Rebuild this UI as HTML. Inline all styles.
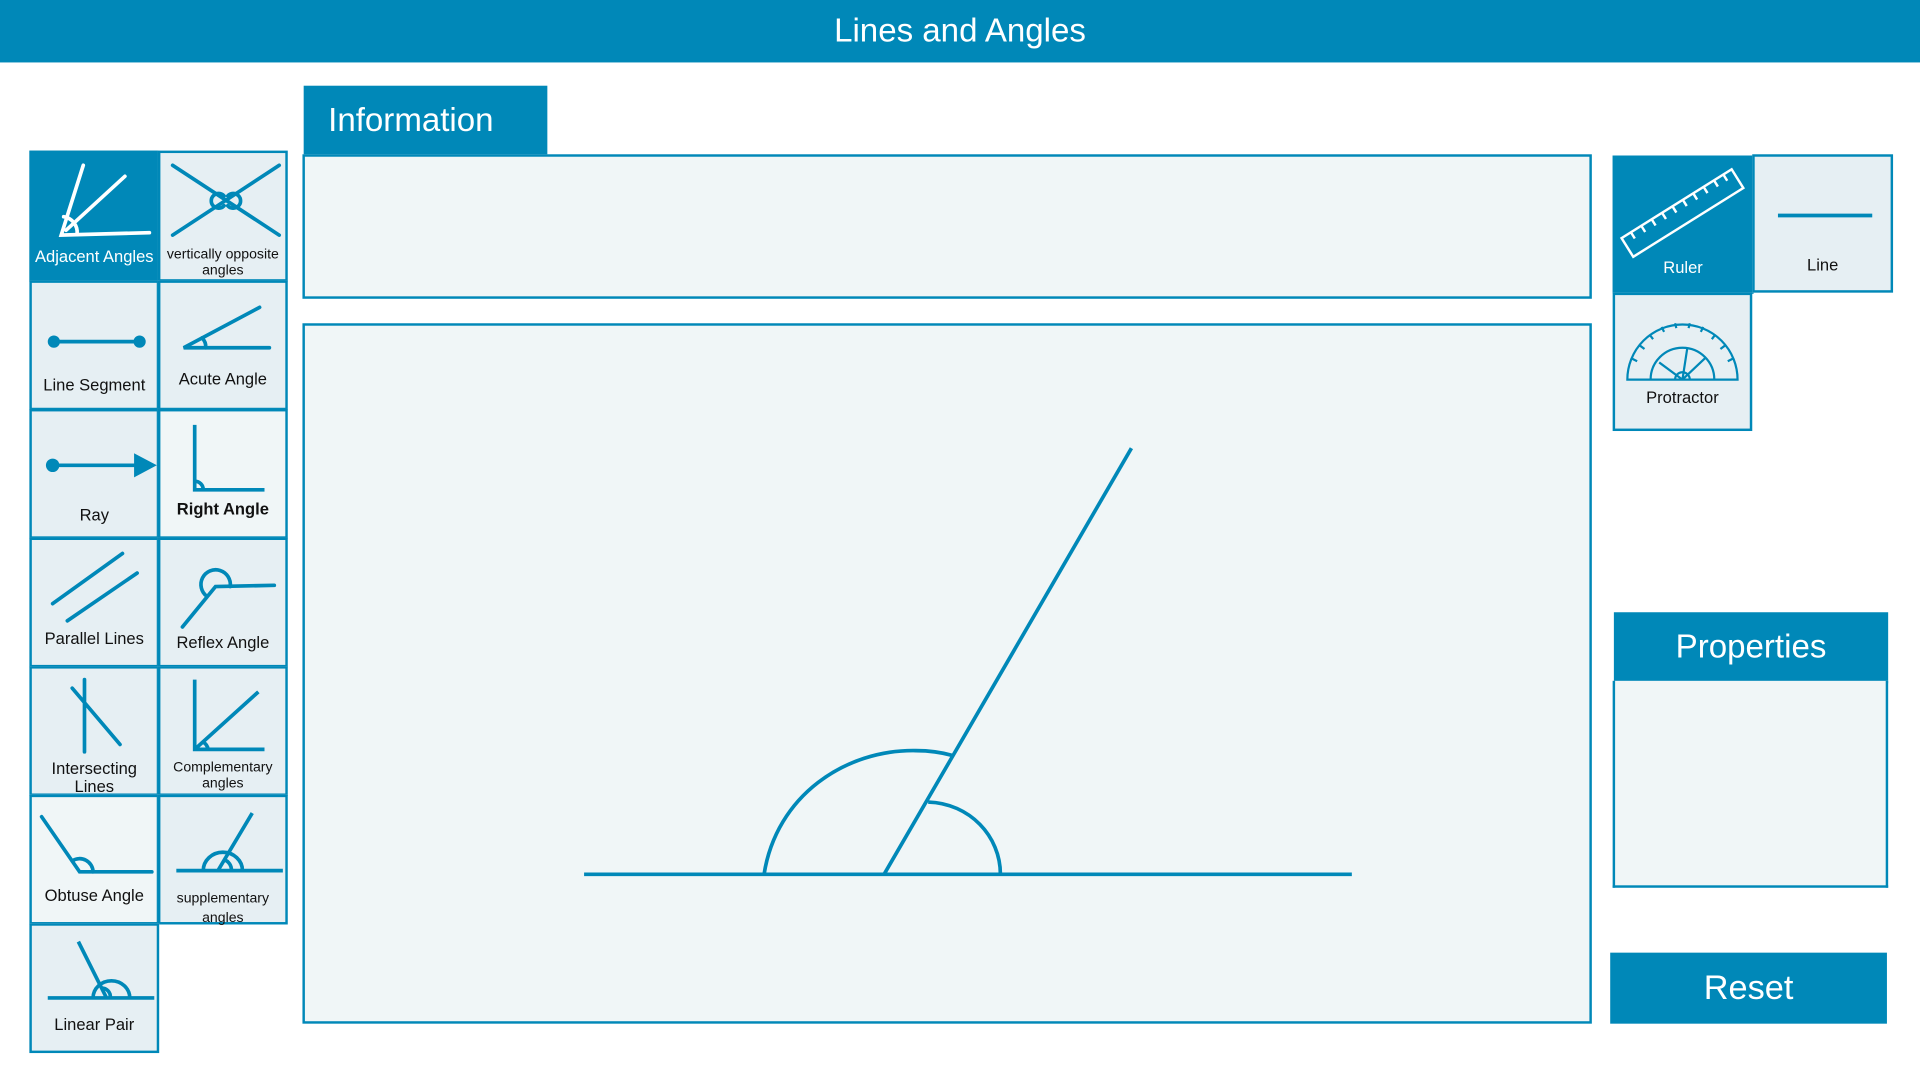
<!DOCTYPE html>
<html><head><meta charset="utf-8"><style>
html,body{margin:0;padding:0;width:1920px;height:1080px;overflow:hidden;background:#fff}
#w{position:absolute;left:0;top:0;width:1568px;height:882px;transform:scale(1.22449);transform-origin:0 0;font-family:"Liberation Sans",sans-serif}
.a{position:absolute;box-sizing:border-box}
.cell{position:absolute;box-sizing:border-box;border:2px solid #0088b8;background:#e6eff3}
.cell svg{position:absolute;left:0;top:0}
.lbl{position:absolute;left:0;right:0;text-align:center;font-size:13.5px;color:#111;line-height:14px;white-space:nowrap}
.sm{font-size:11.5px;line-height:13px}
.on{background:#0088b8}
.on .lbl{color:#fff}
</style></head><body><div id="w">
<div class="a" style="left:0;top:0;width:1568px;height:51px;background:#0088b8;color:#fff;font-size:27px;text-align:center;line-height:51px">Lines and Angles</div>

<div class="a" style="left:248px;top:70px;width:199px;height:57px;background:#0088b8;color:#fff;font-size:27px;line-height:56px;padding-left:20px">Information</div>
<div class="a" style="left:247px;top:126px;width:1053px;height:118px;border:2px solid #0088b8;background:#f0f6f7"></div>

<div class="a" style="left:247px;top:264px;width:1053px;height:572px;border:2px solid #0088b8;background:#f0f6f7"></div>
<svg class="a" style="left:0;top:0" width="1568" height="882" fill="none" stroke="#0088b8" stroke-width="3">
<line x1="477" y1="714" x2="1104" y2="714"/>
<line x1="722" y1="714" x2="924" y2="366"/>
<path d="M817,714 C817,683 792,656 758,655"/>
<path d="M624,714 C634,650 690,612 748,613 C762,613 771,615 778,617"/>
</svg>

<!-- left tool grid -->
<div class="cell on" style="left:24px;top:123px;width:106px;height:107px">
<svg width="106" height="107" fill="none" stroke="#fff" stroke-width="3" stroke-linecap="round"><path d="M42,10 L24,67 L96,65 M28,63 L76,19"/><path d="M26,52 A13,13 0 0 1 37,66"/></svg>
<div class="lbl" style="top:78px">Adjacent Angles</div></div>
<div class="cell" style="left:129px;top:123px;width:106px;height:107px">
<svg width="106" height="107" fill="none" stroke="#0088b8" stroke-width="3" stroke-linecap="round"><path d="M10,10 L97,67 M10,67 L97,10"/><path d="M52,35 A6,6 0 1 0 52,43 M55,35 A6,6 0 1 1 55,43"/></svg>
<div class="lbl sm" style="top:77px">vertically opposite<br>angles</div></div>

<div class="cell" style="left:24px;top:229px;width:106px;height:106px">
<svg width="106" height="106" fill="#0088b8" stroke="#0088b8" stroke-width="3"><line x1="18" y1="48" x2="88" y2="48"/><circle cx="18" cy="48" r="3.5"/><circle cx="88" cy="48" r="3.5"/></svg>
<div class="lbl" style="top:77px">Line Segment</div></div>
<div class="cell" style="left:129px;top:229px;width:106px;height:106px">
<svg width="106" height="106" fill="none" stroke="#0088b8" stroke-width="3" stroke-linecap="round"><path d="M81,20 L19,53 L89,53"/><path d="M34,45 A10,10 0 0 1 37,53"/></svg>
<div class="lbl" style="top:72px">Acute Angle</div></div>

<div class="cell" style="left:24px;top:334px;width:106px;height:106px">
<svg width="106" height="106" fill="#0088b8" stroke="#0088b8" stroke-width="3"><line x1="17" y1="44" x2="86" y2="44"/><circle cx="17" cy="44" r="4"/><path d="M84,35 L101,44 L84,53 Z" stroke-width="1"/></svg>
<div class="lbl" style="top:78px">Ray</div></div>
<div class="cell" style="left:129px;top:334px;width:106px;height:106px;background:#f0f6f7">
<svg width="106" height="106" fill="none" stroke="#0088b8" stroke-width="3"><path d="M28,11 L28,64 L85,64"/><path d="M28,57 A7,7 0 0 1 35,64"/></svg>
<div class="lbl" style="top:73px;font-weight:bold">Right Angle</div></div>

<div class="cell" style="left:24px;top:439px;width:106px;height:106px">
<svg width="106" height="106" fill="none" stroke="#0088b8" stroke-width="3" stroke-linecap="round"><path d="M17,52 L74,11 M29,66 L86,27"/></svg>
<div class="lbl" style="top:74px">Parallel Lines</div></div>
<div class="cell" style="left:129px;top:439px;width:106px;height:106px">
<svg width="106" height="106" fill="none" stroke="#0088b8" stroke-width="3" stroke-linecap="round"><path d="M93,37 L45,38 L18,71"/><path d="M57,38 A12,12 0 1 0 38,46"/></svg>
<div class="lbl" style="top:77px">Reflex Angle</div></div>

<div class="cell" style="left:24px;top:544px;width:106px;height:106px">
<svg width="106" height="106" fill="none" stroke="#0088b8" stroke-width="3" stroke-linecap="round"><path d="M43,9 L43,68 M33,16 L72,62"/></svg>
<div class="lbl" style="top:74px;line-height:15px">Intersecting<br>Lines</div></div>
<div class="cell" style="left:129px;top:544px;width:106px;height:106px">
<svg width="106" height="106" fill="none" stroke="#0088b8" stroke-width="3"><path d="M28,9 L28,66 L85,66 M28,66 L80,19"/><path d="M35,60 A9,9 0 0 1 39,66"/></svg>
<div class="lbl sm" style="top:75px">Complementary<br>angles</div></div>

<div class="cell" style="left:24px;top:649px;width:106px;height:106px;background:#f0f6f7">
<svg width="106" height="106" fill="none" stroke="#0088b8" stroke-width="3" stroke-linecap="round"><path d="M8,16 L39,61 L98,61"/><path d="M33,52 A11,11 0 0 1 50,61"/></svg>
<div class="lbl" style="top:74px">Obtuse Angle</div></div>
<div class="cell" style="left:129px;top:649px;width:106px;height:106px">
<svg width="106" height="106" fill="none" stroke="#0088b8" stroke-width="3"><path d="M13,60 L100,60 M47,60 L75,13"/><path d="M35,60 A16,15 0 0 1 67,60"/><path d="M52,51 A9,9 0 0 1 58,60"/></svg>
<div class="lbl sm" style="top:75px;line-height:16px">supplementary<br>angles</div></div>

<div class="cell" style="left:24px;top:754px;width:106px;height:106px">
<svg width="106" height="106" fill="none" stroke="#0088b8" stroke-width="3"><path d="M13,59 L100,59 M38,13 L61,59"/><path d="M50,59 A15,14 0 0 1 80,59"/><path d="M56,51 A7,7 0 0 1 64,59"/></svg>
<div class="lbl" style="top:74px">Linear Pair</div></div>

<!-- right tools -->
<div class="cell on" style="left:1317px;top:127px;width:115px;height:113px">
<svg width="115" height="113" fill="none" stroke="#fff" stroke-width="2"><g transform="translate(55,45) rotate(-32)"><rect x="-53" y="-9" width="106" height="18"/>
<path d="M-44,-9v6M-34,-9v6M-24,-9v6M-14,-9v6M-4,-9v6M6,-9v6M16,-9v6M26,-9v6M36,-9v6M45,-9v6"/></g></svg>
<div class="lbl" style="top:83px">Ruler</div></div>
<div class="cell" style="left:1431px;top:126px;width:115px;height:113px">
<svg width="115" height="113" stroke="#0088b8" stroke-width="3"><line x1="19" y1="48" x2="96" y2="48"/></svg>
<div class="lbl" style="top:82px">Line</div></div>
<div class="cell" style="left:1317px;top:239px;width:114px;height:113px">
<svg width="114" height="113" fill="none" stroke="#0088b8" stroke-width="1.8"><path d="M10,69 A45,45 0 0 1 100,69 Z"/><path d="M29,69 A26,26 0 0 1 81,69"/><path d="M49,69 A6,6 0 0 1 61,69"/>
<path d="M55,69 L59,43 M55,69 L74,51 M55,69 L36,55"/>
<path d="M14,52l4,2M20,41l4,3M28,32l3,4M38,26l2,4M49,23l1,4M61,23l-1,4M72,26l-2,4M82,32l-3,4M90,41l-4,3M96,52l-4,2"/></svg>
<div class="lbl" style="top:77px">Protractor</div></div>

<div class="a" style="left:1318px;top:500px;width:224px;height:58px;background:#0088b8;color:#fff;font-size:27px;text-align:center;line-height:56px">Properties</div>
<div class="a" style="left:1317px;top:556px;width:225px;height:169px;border:2px solid #0088b8;border-top:none;background:#f0f6f7"></div>

<div class="a" style="left:1315px;top:778px;width:226px;height:58px;background:#0088b8;color:#fff;font-size:28px;text-align:center;line-height:58px">Reset</div>
</div></body></html>
